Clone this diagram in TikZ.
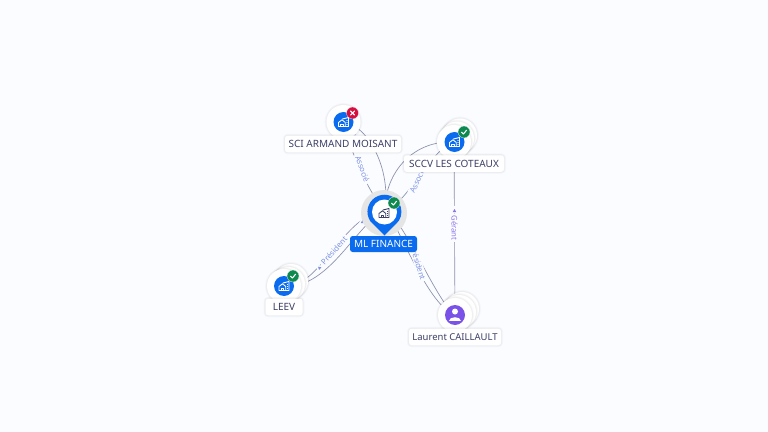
\documentclass[tikz,border=0pt]{standalone}
\usepackage{fontspec}
\setmainfont{Noto Sans}
\usetikzlibrary{backgrounds,shapes.geometric}
\definecolor{bgc}{HTML}{FAFCFF}
\definecolor{edgec}{HTML}{8C90AC}
\definecolor{lab}{HTML}{7F93E2}
\definecolor{labp}{HTML}{8F74E6}
\definecolor{bluec}{HTML}{0B6BEE}
\definecolor{txt}{HTML}{3C3F66}
\definecolor{okc}{HTML}{0E8A50}
\definecolor{koc}{HTML}{D5103F}
\definecolor{purp}{HTML}{7B52E8}
\tikzset{
  x=0.75pt,y=-0.75pt,
  softedge/.style={preaction={draw=black,draw opacity=.025,line width=3pt},preaction={draw=black,draw opacity=.035,line width=1.6pt}},
  disc/.style={circle,fill=white,softedge,minimum size=34*0.75pt,inner sep=0pt},
  core/.style={circle,fill=#1,minimum size=20*0.75pt,inner sep=0pt},
  badge/.style={circle,fill=#1,draw=white,line width=.2pt,minimum size=12*0.75pt,inner sep=0pt},
  namebox/.style={fill=white,softedge,rounded corners=2pt,text=txt,font=\fontsize{7.5}{8}\selectfont,minimum height=16.5*0.75pt,inner sep=2pt},
  mainbox/.style={fill=bluec,rounded corners=2pt,text=white,font=\fontsize{7.5}{8}\selectfont,minimum height=16*0.75pt,minimum width=67*0.75pt,inner sep=0pt},
  link/.style={draw=edgec,line width=.5pt},
  elabel/.style={text=lab,fill=bgc,font=\fontsize{5.8}{6}\selectfont,inner xsep=1.5pt,inner ysep=.8pt},
  tipmark/.style={fill=lab,draw=none,preaction={draw=bgc,line width=2.5pt},regular polygon,regular polygon sides=3,minimum size=3pt,inner sep=0pt},
  icon/.style={draw=#1,line width=.65pt,line join=round,line cap=round}
}
\newcommand{\houseicon}[3]{%
  \begin{scope}[shift={(#1,#2)}]
    \draw[icon=#3] (-5,4.5) -- (-5,0.5) -- (-1.5,-2.2) -- (1.8,0.5) -- (1.8,4.5) -- cycle;
    \draw[icon=#3] (-1,-3) -- (5,-4.5) -- (5,4.5) -- (1.8,4.5);
    \draw[icon=#3] (-2.8,4.5) -- (-2.8,2) -- (-.5,2) -- (-.5,4.5);
    \draw[icon=#3] (3.4,-1.8) -- (3.7,-1.8) (3.4,.5) -- (3.7,.5) (3.4,2.8) -- (3.7,2.8);
  \end{scope}}
\newcommand{\tick}[2]{\draw[white,line width=.8pt,line cap=round,line join=round] (#1-2.4,#2+.2) -- (#1-.6,#2+2) -- (#1+2.6,#2-1.8);}
\newcommand{\cross}[2]{\draw[white,line width=.8pt,line cap=round] (#1-2,#2-2) -- (#1+2,#2+2) (#1-2,#2+2) -- (#1+2,#2-2);}
\begin{document}
\begin{tikzpicture}
\useasboundingbox (0,0) rectangle (768,432);

% ML FINANCE
\node[circle,fill=black!10,minimum size=46*0.75pt,inner sep=0pt] (halo) at (384,213) {};
\fill[bluec] (384.5,235.5) -- (370.2,221) arc[start angle=147,end angle=393,radius=17] -- cycle;
\node[circle,fill=white,minimum size=25*0.75pt,inner sep=0pt] (ml) at (384.5,212) {};
\houseicon{384}{213}{txt}
\node[mainbox] (mllabel) at (383.5,244) {ML FINANCE};
\node[badge=okc] (mlb) at (394,203) {};
\tick{394}{203}

% SCI
\node[disc] (sci) at (343.5,122) {};
\node[core=bluec] (scic) at (343.5,122) {};
\houseicon{343.5}{122}{white}
\node[badge=koc] (scib) at (352.5,113) {};
\cross{352.5}{113}
\node[namebox,minimum width=116*0.75pt] (scil) at (343,144) {SCI ARMAND MOISANT};

% SCCV
\node[disc] (sccv3) at (460,135.5) {};
\node[disc] (sccv2) at (457,138.5) {};
\node[disc] (sccv) at (454,142) {};
\node[core=bluec] (sccvc) at (454.5,142) {};
\houseicon{454.5}{142}{white}
\node[badge=okc] (sccvb) at (464,132) {};
\tick{464}{132}
\node[namebox,minimum width=100*0.75pt] (sccvl) at (454,163.5) {SCCV LES COTEAUX};

% LEEV
\node[disc] (leev3) at (291,281) {};
\node[disc] (leev2) at (288,284) {};
\node[disc] (leev) at (284,286) {};
\node[core=bluec] (leevc) at (284,286) {};
\houseicon{284}{286}{white}
\node[badge=okc] (leevb) at (293,276) {};
\tick{293}{276}
\node[namebox,minimum width=37*0.75pt] (leevl) at (284,307) {LEEV};

% Laurent
\node[disc] (lc3) at (462,309) {};
\node[disc] (lc2) at (459,312) {};
\node[disc] (lc) at (455,315) {};
\node[core=purp] (lcc) at (455,315) {};
\fill[white] (455,311.5) circle[radius=3];
\fill[white] (449,320.5) .. controls (449,315.5) and (461,315.5) .. (461,320.5) -- cycle;
\node[namebox,minimum width=92*0.75pt,font=\fontsize{7.1}{8}\selectfont] (lcl) at (455,337) {Laurent CAILLAULT};

\begin{scope}[on background layer]
  \fill[bgc] (0,0) rectangle (768,432);
  % SCI -- ML
  \draw[link] (sci.center) .. controls (368,125) and (392,170) .. (ml.center);
  \draw[link] (sci.center) .. controls (350,150) and (365,185) .. (ml.center);
  % SCCV -- ML
  \draw[link] (sccv.center) .. controls (415,140) and (385,170) .. (ml.center);
  \draw[link] (sccv.center) .. controls (430,150) and (410,200) .. (ml.center);
  % LEEV -- ML
  \draw[link] (leev.center) .. controls (320,290) and (345,211) .. (ml.center);
  \draw[link] (leev.center) .. controls (330,290) and (359,219) .. (ml.center);
  % Laurent -- ML
  \draw[link] (lc.center) .. controls (425,305) and (391,205) .. (ml.center);
  \draw[link] (lc.center) .. controls (435,300) and (400,210) .. (ml.center);
  % Laurent -- SCCV
  \draw[link] (lc.center) -- (sccv.center);

  \node[elabel,rotate=-70] (t1) at (362.5,169) {Associé};
  \node[elabel,rotate=65] (t2) at (417.5,180) {Associé};
  \node[elabel,rotate=48] (t3) at (334,250.5) {Président};
  \node[elabel,rotate=-72] (t4) at (418,263) {Président};
  \node[elabel,text=labp,rotate=-90] (t5) at (454.5,228) {Gérant};
  \node[tipmark,fill=labp] (m5) at (454.5,211) {};
  \node[tipmark,rotate=48] (m3) at (319.5,268) {};
  \node[tipmark] (m1) at (354,134) {};
  \node[tipmark] (m2) at (362.5,222) {};
  \node[tipmark] (m4) at (401,224) {};
\end{scope}
\end{tikzpicture}
\end{document}
